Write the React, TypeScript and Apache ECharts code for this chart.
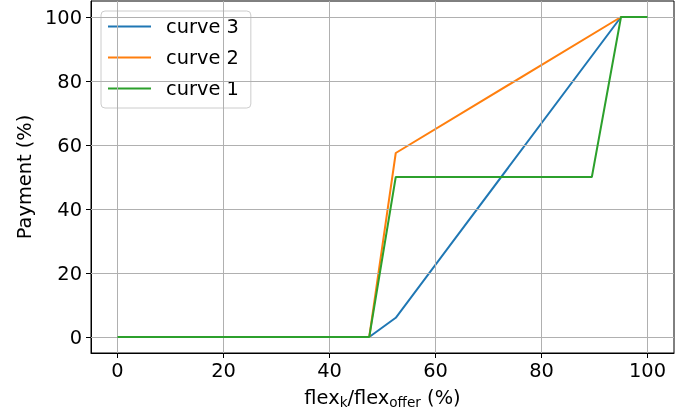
import React, { useEffect, useRef } from 'react';
import * as echarts from 'echarts';

const curve3X = [0, 47.5, 52.5, 95, 100];
const curve3Y = [0, 0, 6, 100, 100];
const curve2X = [0, 47.5, 52.5, 95, 100];
const curve2Y = [0, 0, 57.5, 100, 100];
const curve1X = [0, 47.5, 52.5, 89.5, 95, 100];
const curve1Y = [0, 0, 50, 50, 100, 100];
const seriesNames = ['curve 3', 'curve 2', 'curve 1'];
const xTicks = [0, 20, 40, 60, 80, 100];
const yTicks = [0, 20, 40, 60, 80, 100];

const FONT = 'DejaVu Sans';
const FS = 19.4;

function zip(xs: number[], ys: number[]) {
  return xs.map((x, i) => [x, ys[i]]);
}

export default function App() {
  const ref = useRef<HTMLDivElement>(null);
  useEffect(() => {
    if (!ref.current) return;
    const chart = echarts.init(ref.current, undefined, { renderer: 'svg' });
    const axisCommon = {
      type: 'value' as const,
      min: -5,
      max: 105,
      axisLine: { show: true, onZero: false, lineStyle: { color: '#000', width: 1 } },
      splitLine: { show: false },
    };
    const gridLines = [
      ...xTicks.map((v) => ({ xAxis: v })),
      ...yTicks.map((v) => ({ yAxis: v })),
    ];
    chart.setOption({
      animation: false,
      grid: {
        left: 91,
        right: 21,
        top: 1,
        bottom: 63,
        show: true,
        borderColor: '#000',
        borderWidth: 1,
        backgroundColor: 'transparent',
      },
      legend: {
        data: seriesNames,
        orient: 'vertical',
        left: 101,
        top: 11,
        icon: 'rect',
        itemWidth: 43,
        itemHeight: 2,
        itemGap: 12,
        padding: [6, 12, 10, 7],
        backgroundColor: 'rgba(255,255,255,0.8)',
        borderColor: '#cccccc',
        borderWidth: 1,
        borderRadius: 4,
        textStyle: { fontFamily: FONT, fontSize: FS, color: '#000', padding: [0, 0, 0, 10] },
      },
      xAxis: {
        ...axisCommon,
        axisTick: { show: true, customValues: xTicks, length: 5, lineStyle: { color: '#000', width: 1 } },
        axisLabel: {
          customValues: xTicks,
          fontFamily: FONT,
          fontSize: FS,
          color: '#000',
          margin: 8,
        },
        name: '{a|flex}{s|k}{a|/flex}{s|offer}{a| (%)}',
        nameLocation: 'middle',
        nameGap: 32,
        nameTextStyle: {
          rich: {
            a: { fontFamily: FONT, fontSize: FS, color: '#000' },
            s: { fontFamily: FONT, fontSize: 13.6, color: '#000', padding: [10, 0, 0, 0] },
          },
        },
      },
      yAxis: {
        ...axisCommon,
        axisTick: { show: true, customValues: yTicks, length: 5, lineStyle: { color: '#000', width: 1 } },
        axisLabel: {
          customValues: yTicks,
          fontFamily: FONT,
          fontSize: FS,
          color: '#000',
          margin: 9,
        },
        name: 'Payment (%)',
        nameLocation: 'middle',
        nameGap: 52,
        nameTextStyle: { fontFamily: FONT, fontSize: FS, color: '#000' },
      },
      series: [
        {
          name: 'grid',
          type: 'line',
          data: [],
          z: 1,
          silent: true,
          markLine: {
            silent: true,
            symbol: 'none',
            label: { show: false },
            lineStyle: { color: '#b0b0b0', width: 1, type: 'solid' },
            emphasis: { disabled: true },
            data: gridLines,
          },
        },
        { name: seriesNames[0], type: 'line', data: zip(curve3X, curve3Y), symbol: 'none', lineStyle: { width: 2, color: '#1f77b4' }, itemStyle: { color: '#1f77b4' }, z: 3 },
        { name: seriesNames[1], type: 'line', data: zip(curve2X, curve2Y), symbol: 'none', lineStyle: { width: 2, color: '#ff7f0e' }, itemStyle: { color: '#ff7f0e' }, z: 4 },
        { name: seriesNames[2], type: 'line', data: zip(curve1X, curve1Y), symbol: 'none', lineStyle: { width: 2, color: '#2ca02c' }, itemStyle: { color: '#2ca02c' }, z: 5 },
      ],
    });
    return () => chart.dispose();
  }, []);
  return <div ref={ref} style={{ position: 'fixed', left: 0, top: 0, width: 695, height: 416 }} />;
}
